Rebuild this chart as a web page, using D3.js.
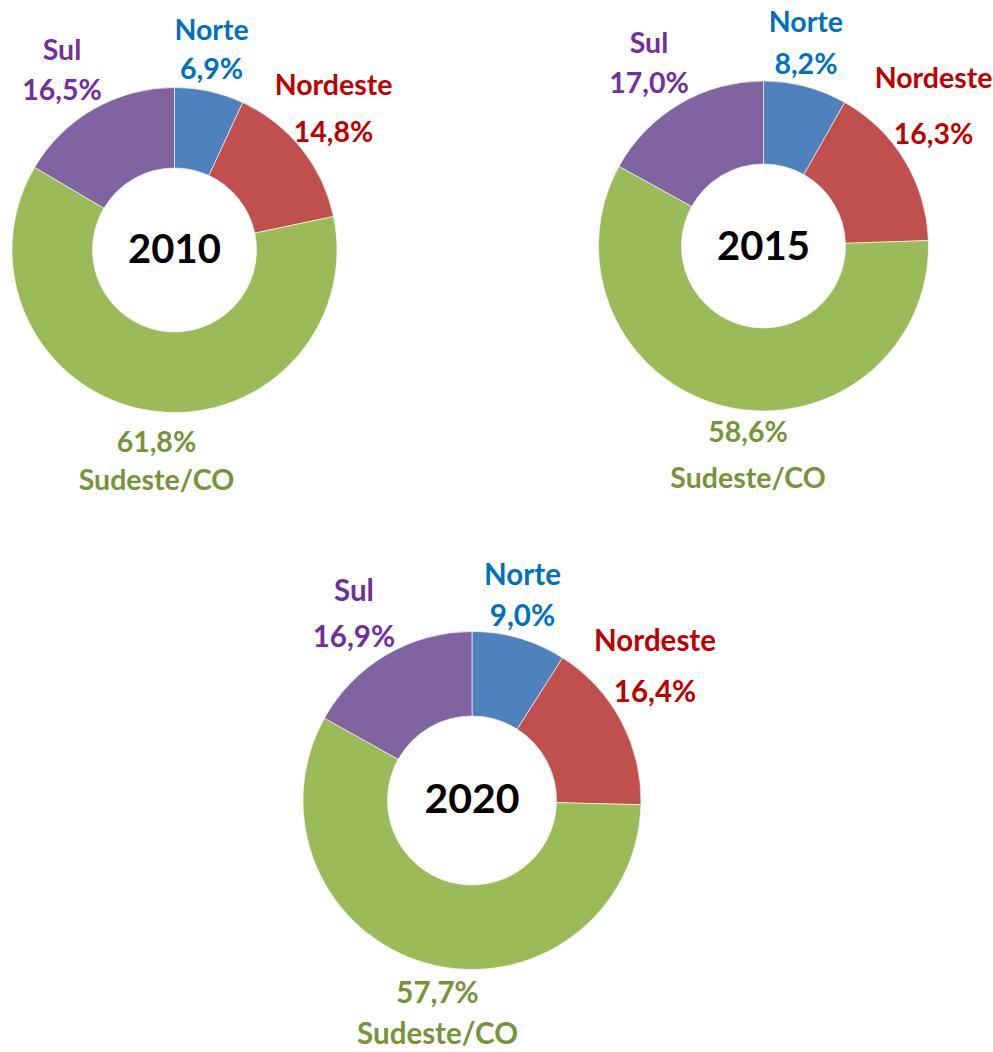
<!DOCTYPE html>
<html>
<head>
<meta charset="utf-8">
<script src="https://cdn.jsdelivr.net/npm/d3@7"></script>
<style>
  html, body { margin: 0; padding: 0; background: #fff; }
  svg { display: block; }
  text { font-family: Lato, "Open Sans", sans-serif; font-weight: 700; }
</style>
</head>
<body>
<svg id="chart" width="993" height="1052"></svg>
<script>
// Regional shares (%) per year, clockwise from 12 o'clock
const regions = ["Norte", "Nordeste", "Sudeste/CO", "Sul"];
const years = ["2010", "2015", "2020"];
const share2010 = [6.9, 14.8, 61.8, 16.5];
const share2015 = [8.2, 16.3, 58.6, 17.0];
const share2020 = [9.0, 16.4, 57.7, 16.9];

const sliceColors = ["#4F81BD", "#C0504D", "#9BBB59", "#8064A2"];
const labelColors = ["#0070C0", "#C00000", "#77933C", "#7030A0"];

// Placement of each donut: centre, radii, label font size
const layout = [
  { cx: 174.5, cy: 250,   R: 162.5, r: 82,   fs: 28.5, yearFs: 40, yearDy: 13 },
  { cx: 763.5, cy: 246,   R: 165,   r: 82,   fs: 28.5, yearFs: 40, yearDy: 14 },
  { cx: 472,   cy: 800.5, R: 169,   r: 84.5, fs: 29.5, yearFs: 41, yearDy: 12.5 }
];
// Label nudges from the outer label ring [dx, dy, line gap]
const labelNudge = [
  [[-7.6, 12.1, 39], [-3.3, -2.3, 47], [15.7, 16.3, 38], [-9.7, 10.2, 40]],
  [[-11, 10.1, 42], [-9.6, -21.2, 56], [33.5, 14.8, 46], [-7.7, 7.8, 40]],
  [[-9.2, 10.5, 41], [-5.8, -23.3, 51], [22, 16.6, 41], [-9.7, 8.1, 46]]
];

const shares = [share2010, share2015, share2020];
const fmt = v => d3.format(".1f")(v).replace(".", ",") + "%";

const svg = d3.select("#chart");
const pie = d3.pie().sort(null).value(d => d.value);

shares.forEach((vals, i) => {
  const L = layout[i];
  const data = regions.map((name, k) => ({ name, value: vals[k], k }));
  const arcs = pie(data);
  const arc = d3.arc().innerRadius(L.r).outerRadius(L.R);
  const labelArc = d3.arc().innerRadius(L.R + 45).outerRadius(L.R + 45);

  const g = svg.append("g").attr("transform", `translate(${L.cx},${L.cy})`);

  g.selectAll("path.slice")
    .data(arcs)
    .join("path")
    .attr("class", "slice")
    .attr("d", arc)
    .attr("fill", d => sliceColors[d.data.k])
    .attr("stroke", "#ffffff")
    .attr("stroke-opacity", 0.6)
    .attr("stroke-width", 1);

  g.append("text")
    .attr("text-anchor", "middle")
    .attr("y", L.yearDy)
    .attr("font-size", L.yearFs)
    .attr("fill", "#000")
    .text(years[i]);

  const lab = g.selectAll("g.lab")
    .data(arcs)
    .join("g")
    .attr("class", "lab")
    .attr("transform", d => {
      const [x, y] = labelArc.centroid(d);
      const n = labelNudge[i][d.data.k];
      return `translate(${x + n[0]},${y + n[1]})`;
    });

  lab.each(function(d) {
    const n = labelNudge[i][d.data.k];
    const sel = d3.select(this);
    // bottom slice shows the value above the name
    const lines = d.data.k === 2 ? [fmt(d.data.value), d.data.name] : [d.data.name, fmt(d.data.value)];
    lines.forEach((t, j) => {
      sel.append("text")
        .attr("text-anchor", "middle")
        .attr("y", j === 0 ? -n[2] / 2 : n[2] / 2)
        .attr("font-size", L.fs)
        .attr("fill", labelColors[d.data.k])
        .text(t);
    });
  });
});
</script>
</body>
</html>
